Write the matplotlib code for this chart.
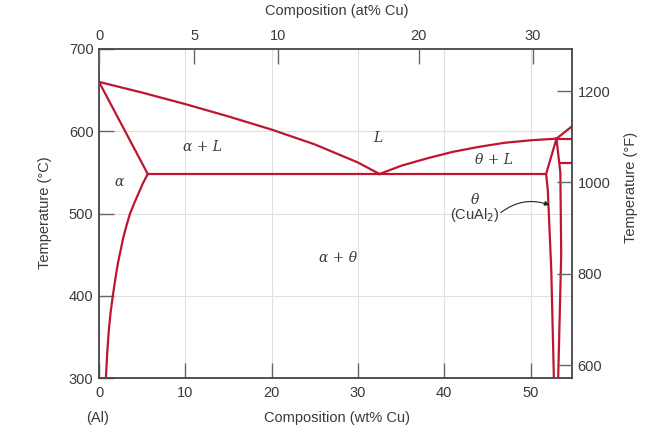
import numpy as np
import matplotlib
matplotlib.use("Agg")
import matplotlib.pyplot as plt

plt.rcParams["font.family"] = ["Liberation Sans", "DejaVu Sans"]

# ---- data (wt% Cu, temperature in degC) ----
liq_left_x = [0, 5, 10, 15, 20, 25, 30, 32.5]
liq_left_t = [660, 647, 633, 618, 602, 584, 562, 548]
liq_right_x = [32.5, 35, 38, 41, 44, 47, 50, 53.0]
liq_right_t = [548, 558, 567, 575, 581, 586, 589, 591]
solidus_x = [0, 5.65]
solidus_t = [660, 548]
solvus_x = [5.65, 5.1, 4.6, 4.1, 3.6, 3.2, 2.8, 2.5, 2.2, 1.9, 1.6, 1.35, 1.15, 0.95, 0.8]
solvus_t = [548, 537, 525, 513, 500, 486, 470, 455, 440, 421, 400, 380, 360, 330, 300]
eutectic_x = [5.65, 51.8]
eutectic_t = [548, 548]
theta_left_x = [53.0, 51.8, 52.0, 52.4, 52.7]
theta_left_t = [591, 548, 528, 431, 300]
theta_right_x = [53.0, 53.45, 53.55, 53.2]
theta_right_t = [591, 550, 450, 300]
peritectic_x = [53.0, 54.8]
peritectic_t = [591, 591]
liq_far_x = [53.0, 54.8]
liq_far_t = [591, 606]
eta_x = [53.45, 54.8]
eta_t = [561, 561]

wt_ticks = [0, 10, 20, 30, 40, 50]
degC_ticks = [300, 400, 500, 600, 700]
at_ticks = [0, 5, 10, 20, 30]
degF_ticks = [600, 800, 1000, 1200]

labels = [
    ("α + L", 12.0, 581),
    ("L", 32.3, 592),
    ("α", 2.3, 538),
    ("θ + L", 45.8, 565),
    ("α + θ", 27.7, 446),
]

XMIN, XMAX = 0, 54.8
TMIN, TMAX = 300, 700

RED = "#bf1530"
GRAY = "#444444"
TXT = "#3a3a3a"

M_CU, M_AL = 63.55, 26.98


def at_to_wt(a):
    a = np.asarray(a, dtype=float)
    return 100 * a * M_CU / (a * M_CU + (100 - a) * M_AL)


def c_to_f(c):
    return np.asarray(c) * 9 / 5 + 32


fig = plt.figure(figsize=(6.52, 4.41), dpi=100)
ax = fig.add_axes([99 / 652, 1 - 378 / 441, (572 - 99) / 652, (378 - 49) / 441])
ax.set_xlim(XMIN, XMAX)
ax.set_ylim(TMIN, TMAX)

# grid
for x in wt_ticks[1:]:
    ax.axvline(x, color="#e0e0e0", lw=0.8, zorder=0)
for t in degC_ticks[1:-1]:
    ax.axhline(t, color="#e0e0e0", lw=0.8, zorder=0)

lw = 1.6
for xs, ts in [(liq_left_x, liq_left_t), (liq_right_x, liq_right_t),
               (solidus_x, solidus_t), (solvus_x, solvus_t),
               (eutectic_x, eutectic_t), (theta_left_x, theta_left_t),
               (theta_right_x, theta_right_t), (peritectic_x, peritectic_t),
               (liq_far_x, liq_far_t), (eta_x, eta_t)]:
    ax.plot(xs, ts, color=RED, lw=lw, solid_joinstyle="miter", zorder=3,
            clip_on=True)

for s, x, t in labels:
    ax.text(x, t, s, ha="center", va="center", fontsize=10,
            family="DejaVu Serif", style="italic", color=TXT)

ax.text(43.6, 517, "θ", ha="center", va="center", fontsize=10,
        family="DejaVu Serif", style="italic", color=TXT)
ax.text(43.5, 498, "(CuAl$_2$)", ha="center", va="center", fontsize=10.5,
        color=TXT)
ax.annotate("", xy=(52.5, 509), xytext=(46.3, 499),
            arrowprops=dict(arrowstyle="-|>", color="#222222", lw=0.8,
                            connectionstyle="arc3,rad=-0.3",
                            mutation_scale=7))

# spines
for sp in ax.spines.values():
    sp.set_color(GRAY)
    sp.set_linewidth(1.3)

ax.set_xticks(wt_ticks)
ax.set_yticks(degC_ticks)
ax.tick_params(direction="in", length=11, width=1.0, color="#666666",
               labelsize=10.5, labelcolor=TXT)
ax.tick_params(axis="x", pad=6)
ax.tick_params(axis="y", pad=4)

# top axis: at%
axt = ax.twiny()
axt.set_xlim(XMIN, XMAX)
axt.set_xticks(at_to_wt(at_ticks))
axt.set_xticklabels([str(a) for a in at_ticks])
axt.tick_params(direction="in", length=11, width=1.0, color="#666666",
                labelsize=10.5, labelcolor=TXT, pad=4)
for sp in axt.spines.values():
    sp.set_visible(False)

# right axis: degF
axr = ax.twinx()
axr.set_ylim(c_to_f(TMIN), c_to_f(TMAX))
axr.set_yticks(degF_ticks)
axr.tick_params(direction="in", length=11, width=1.0, color="#666666",
                labelsize=10.5, labelcolor=TXT, pad=4)
for sp in axr.spines.values():
    sp.set_visible(False)

fig.text(337 / 652, 1 - 11 / 441, "Composition (at% Cu)", ha="center",
         va="center", fontsize=10.5, color=TXT)
fig.text(337 / 652, 1 - 418 / 441, "Composition (wt% Cu)", ha="center",
         va="center", fontsize=10.5, color=TXT)
fig.text(98 / 652, 1 - 418 / 441, "(Al)", ha="center", va="center",
         fontsize=10.5, color=TXT)
fig.text(45 / 652, 1 - 213 / 441, "Temperature (°C)", ha="center",
         va="center", rotation=90, fontsize=10.5, color=TXT)
fig.text(631 / 652, 1 - 187 / 441, "Temperature (°F)", ha="center",
         va="center", rotation=90, fontsize=10.5, color=TXT)

fig.savefig("out.png", dpi=100, facecolor="white")
